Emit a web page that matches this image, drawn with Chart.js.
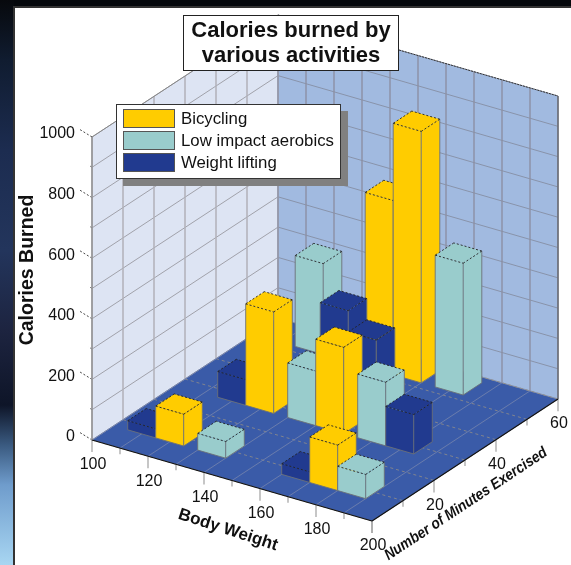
<!DOCTYPE html>
<html>
<head>
<meta charset="utf-8">
<title>Calories burned by various activities</title>
<script src="https://cdn.jsdelivr.net/npm/chart.js@4"></script>
<style>
html, body { margin: 0; padding: 0; overflow: hidden; }
body {
    width: 571px;
    height: 565px;
    position: relative;
    background: linear-gradient(to bottom, #07090d 0, #101c30 60px, #1c2c50 150px, #23355c 250px, #1d2440 330px, #0e1528 405px, #3a5a80 445px, #6f9ccc 485px, #a8d6f2 565px);
}
#top_strip { position: absolute; left: 14px; top: 0; width: 557px; height: 7px; background: #05080c; }
#paper { position: absolute; left: 13px; top: 6px; width: 558px; height: 559px; background: #fff; border-left: 2px solid #333; border-top: 2px solid #333; box-sizing: border-box; }
canvas { position: absolute; left: 0; top: 0; }
</style>
</head>
<body>
<div id="top_strip"></div>
<div id="paper"></div>
<canvas id="chart1" width="571" height="565"></canvas>
<script>
//values
const seriesNames = ['Bicycling', 'Low impact aerobics', 'Weight lifting'];
const seriesColors = ['#ffcc00', '#99cccc', '#213a8f'];

const bicyclingWeight = [145, 155, 130, 155, 120, 175];
const bicyclingMinutes = [55, 55, 30, 30, 10, 10];
const bicyclingCalories = [575, 830, 335, 285, 105, 150];

const aerobicsWeight = [120, 170, 145, 170, 135, 185];
const aerobicsMinutes = [55, 55, 30, 30, 10, 10];
const aerobicsCalories = [300, 435, 180, 210, 55, 80];

const liftingWeight = [140, 150, 120, 180, 110, 165];
const liftingMinutes = [45, 45, 30, 30, 10, 10];
const liftingCalories = [265, 195, 85, 130, 30, 35];

const weightTicks = [100, 110, 120, 130, 140, 150, 160, 170, 180, 190, 200];
const minuteTicks = [0, 10, 20, 30, 40, 50, 60];
const calorieTicks = [0, 100, 200, 300, 400, 500, 600, 700, 800, 900, 1000];

//size of one bar in data units
const barWeightSize = 10;
const barMinuteSize = 6;

//oblique view: data units to page units
function project(weight, minutes, calories) {
    return {
        x: 92 + (weight - 100) * 2.8 + minutes * 3.1,
        y: 440 + (weight - 100) * 0.81 - minutes * 2.033 - calories * 0.303
    };
}

var datasets = [];

function addShape(corners, color) {
    var pts = corners.map(function(c) { return project(c[0], c[1], c[2]); });
    pts.push(pts[0]);
    datasets.push({
        data: pts,
        showLine: true,
        fill: 'shape',
        backgroundColor: color,
        borderWidth: 0,
        borderDash: [1000, 0],
        pointRadius: 0
    });
}

function addLine(from, to, color, width, dash) {
    datasets.push({
        data: [project(from[0], from[1], from[2]), project(to[0], to[1], to[2])],
        showLine: true,
        fill: false,
        borderColor: color,
        borderWidth: width,
        borderDash: dash || [1000, 0],
        pointRadius: 0
    });
}

//walls and floor
addShape([[100, 0, 0], [100, 60, 0], [100, 60, 1000], [100, 0, 1000]], '#dde4f3');
addShape([[100, 60, 0], [200, 60, 0], [200, 60, 1000], [100, 60, 1000]], '#a1bae0');
addShape([[100, 0, 0], [200, 0, 0], [200, 60, 0], [100, 60, 0]], '#3a5ba8');

calorieTicks.forEach(function(c) {
    addLine([100, 0, c], [100, 60, c], '#9a9aa2', 0.9);
    addLine([100, 60, c], [200, 60, c], '#868ea4', 0.9);
    //tick marks on the left of the wall
    addLine([100, 0, c], [100 - (c % 200 ? 1.2 : 4.3), 0, c + (c % 200 ? 4 : 13)], '#444', 1, [2, 2]);
});
minuteTicks.forEach(function(m) {
    addLine([100, m, 0], [100, m, 1000], '#b0b0b8', 1.5);
    addLine([100, m, 0], [200, m, 0], '#928e88', 0.8, [3, 3]);
    addLine([200, m, 0], [200, m, m % 20 ? -20 : -40], '#a0a0a0', 1.2);
});
weightTicks.forEach(function(w) {
    addLine([w, 60, 0], [w, 60, 1000], '#8c90a4', 1.4);
    addLine([w, 0, 0], [w, 60, 0], '#6f80ad', 0.9);
    addLine([w, 0, 0], [w, 0, w % 20 ? -20 : -40], '#a0a0a0', 1.2);
});

//outer edges
addLine([100, 60, 1000], [200, 60, 1000], '#333', 1, [2, 1]);
addLine([100, 0, 1000], [100, 60, 1000], '#888', 1);
addLine([100, 0, 0], [200, 0, 0], '#111', 1.2);
addLine([200, 0, 0], [200, 60, 0], '#111', 1.2);
addLine([100, 0, 0], [100, 0, 1000], '#888', 1.2);
addLine([200, 60, 0], [200, 60, 1000], '#555', 1);

//bars, far ones first
function collectBars(weights, minutes, calories, color) {
    return weights.map(function(w, i) {
        return { weight: w, minutes: minutes[i], calories: calories[i], color: color };
    });
}

const bars = collectBars(bicyclingWeight, bicyclingMinutes, bicyclingCalories, seriesColors[0])
    .concat(collectBars(aerobicsWeight, aerobicsMinutes, aerobicsCalories, seriesColors[1]))
    .concat(collectBars(liftingWeight, liftingMinutes, liftingCalories, seriesColors[2]));

bars.sort(function(a, b) {
    return b.minutes - a.minutes || a.weight - b.weight;
});

bars.forEach(function(b) {
    var w0 = b.weight - barWeightSize / 2, w1 = b.weight + barWeightSize / 2;
    var m0 = b.minutes - barMinuteSize / 2, m1 = b.minutes + barMinuteSize / 2;
    var h = b.calories;
    var edge = '#6b7078';
    addShape([[w0, m0, 0], [w1, m0, 0], [w1, m0, h], [w0, m0, h]], b.color);
    addShape([[w1, m0, 0], [w1, m1, 0], [w1, m1, h], [w1, m0, h]], b.color);
    addShape([[w0, m0, h], [w1, m0, h], [w1, m1, h], [w0, m1, h]], b.color);
    addLine([w0, m0, 0], [w1, m0, 0], edge, 0.9);
    addLine([w1, m0, 0], [w1, m1, 0], edge, 0.9);
    addLine([w0, m0, 0], [w0, m0, h], edge, 0.9);
    addLine([w1, m0, 0], [w1, m0, h], edge, 0.9);
    addLine([w1, m1, 0], [w1, m1, h], edge, 0.9);
    addLine([w0, m0, h], [w1, m0, h], '#222', 0.9, [2, 2]);
    addLine([w1, m0, h], [w1, m1, h], '#222', 0.9, [2, 2]);
    addLine([w1, m1, h], [w0, m1, h], '#222', 0.9, [2, 2]);
    addLine([w0, m1, h], [w0, m0, h], '#222', 0.9, [2, 2]);
});

//chart.js paints the first dataset on top, so the far things go last
datasets.reverse();

function drawText(ctx, chart, text, x, y, font, angle, squeeze) {
    ctx.save();
    ctx.translate(chart.scales.x.getPixelForValue(x), chart.scales.y.getPixelForValue(y));
    ctx.rotate((angle || 0) * Math.PI / 180);
    if (squeeze) ctx.scale(squeeze, 1);
    ctx.font = font;
    ctx.fillStyle = '#111';
    ctx.fillText(text, 0, 0);
    ctx.restore();
}

function drawBox(ctx, chart, x0, y0, x1, y1, color, border) {
    var sx = chart.scales.x, sy = chart.scales.y;
    var left = sx.getPixelForValue(x0), top = sy.getPixelForValue(y0);
    var w = sx.getPixelForValue(x1) - left, h = sy.getPixelForValue(y1) - top;
    ctx.fillStyle = color;
    ctx.fillRect(left, top, w, h);
    if (border) {
        ctx.strokeStyle = border;
        ctx.lineWidth = 1;
        ctx.strokeRect(left + 0.5, top + 0.5, w - 1, h - 1);
    }
}

const textPlugin = {
    id: 'text_plugin',
    afterDatasetsDraw: function(chart) {
        var ctx = chart.ctx;
        ctx.save();
        ctx.textBaseline = 'middle';

        //axis numbers
        ctx.textAlign = 'right';
        calorieTicks.forEach(function(c) {
            if (c % 200) return;
            var p = project(100, 0, c);
            drawText(ctx, chart, String(c), p.x - 17, p.y - 3, '16px "Liberation Sans"');
        });
        ctx.textAlign = 'center';
        weightTicks.forEach(function(w) {
            if (w % 20) return;
            var p = project(w, 0, 0);
            drawText(ctx, chart, String(w), p.x + 1, p.y + 25, '16px "Liberation Sans"');
        });
        minuteTicks.forEach(function(m) {
            if (m == 0 || m % 20) return;
            var p = project(200, m, 0);
            drawText(ctx, chart, String(m), p.x + 1, p.y + 25, '16px "Liberation Sans"');
        });

        //axis titles
        drawText(ctx, chart, 'Calories Burned', 28, 270, 'bold 19.5px "Liberation Sans"', -90);
        drawText(ctx, chart, 'Body Weight', 228, 530, 'bold 17px "Liberation Sans"', 18);
        drawText(ctx, chart, 'Number of Minutes Exercised', 466, 504, 'italic bold 15.5px "Liberation Sans"', -33.5, 0.88);

        //title box
        drawBox(ctx, chart, 183, 15, 399, 71, '#fff', '#222');
        drawText(ctx, chart, 'Calories burned by', 291, 31, 'bold 22px "Liberation Sans"');
        drawText(ctx, chart, 'various activities', 291, 56, 'bold 22px "Liberation Sans"');

        //legend box with its shadow
        drawBox(ctx, chart, 123, 111, 348, 186, '#808080');
        drawBox(ctx, chart, 116, 104, 341, 179, '#fff', '#333');
        ctx.textAlign = 'left';
        seriesNames.forEach(function(name, i) {
            var top = 109 + i * 22;
            drawBox(ctx, chart, 123, top, 175, top + 19, seriesColors[i], '#555');
            drawText(ctx, chart, name, 181, top + 10, '16.8px "Liberation Sans"');
        });
        ctx.restore();
    }
};

const config = {
    type: 'scatter',
    data: { datasets: datasets },
    options: {
        responsive: false,
        animation: false,
        layout: { padding: 0 },
        plugins: {
            legend: { display: false },
            title: { display: false },
            tooltip: { enabled: false }
        },
        scales: {
            x: { type: 'linear', min: 0, max: 571, display: false },
            y: { type: 'linear', min: 0, max: 565, reverse: true, display: false }
        }
    },
    plugins: [textPlugin]
};

const myChart = new Chart(document.getElementById('chart1'), config);
</script>
</body>
</html>
